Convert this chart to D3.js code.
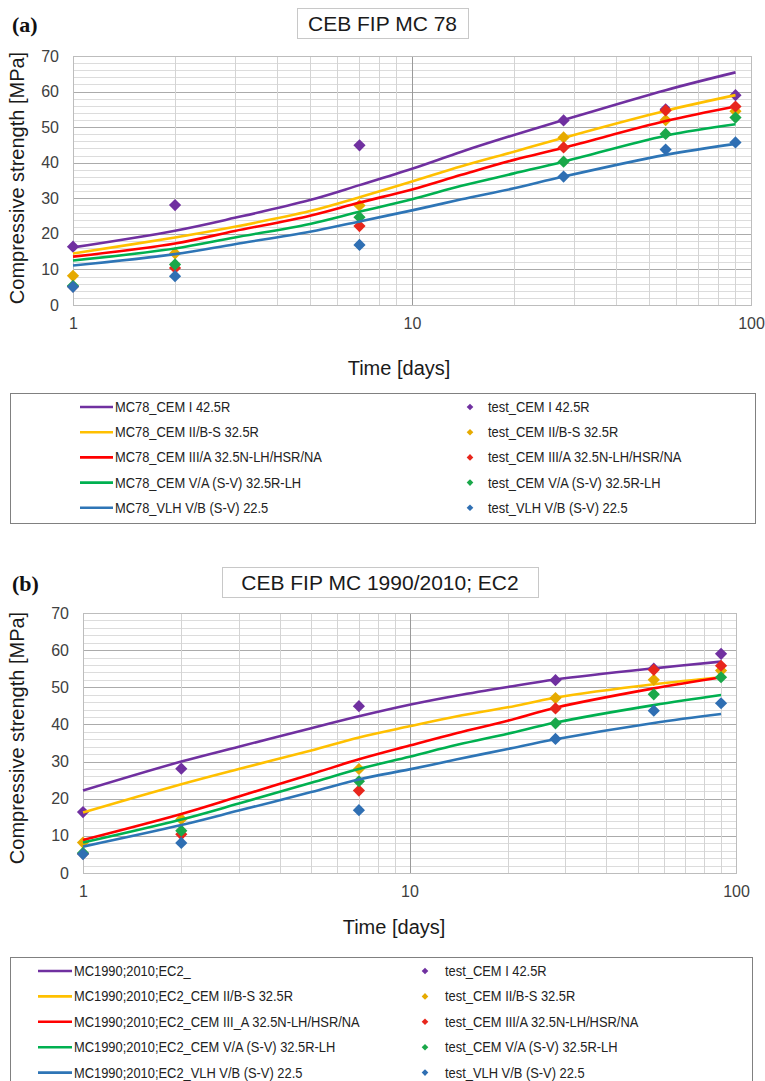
<!DOCTYPE html>
<html>
<head>
<meta charset="utf-8">
<script src="https://cdn.jsdelivr.net/npm/d3@7"></script>
<style>
  body { margin: 0; background: #fff; }
  svg { display: block; }
</style>
</head>
<body>
<svg id="chart" width="765" height="1081"></svg>
<script>
// ---- data -------------------------------------------------------------
const modelDays = [1, 2, 3, 5, 7, 10, 14, 20, 28, 56, 90];
const testDays  = [1, 2, 7, 28, 56, 90];

// CEB-FIP MC 78 predictions [MPa]
const mc78_cemI     = [16.2, 20.9, 24.5, 29.5, 33.7, 38.3, 43.1, 47.8, 52.0, 60.4, 65.4];
const mc78_cemII    = [14.5, 19.0, 22.0, 26.4, 30.3, 34.7, 39.0, 43.1, 47.0, 54.6, 59.0];
const mc78_cemIII   = [13.6, 17.3, 20.8, 25.1, 28.8, 32.5, 36.6, 40.8, 44.2, 51.7, 55.8];
const mc78_cemV     = [12.5, 15.9, 19.0, 22.8, 26.2, 29.7, 33.5, 37.0, 40.3, 47.6, 50.8];
const mc78_vlh      = [11.1, 14.3, 17.1, 20.6, 23.5, 26.6, 29.7, 32.8, 36.1, 42.2, 45.3];

// CEB-FIP MC 1990/2010; EC2 predictions [MPa]
const mc90_cemI     = [22.2, 30.0, 34.0, 39.0, 42.2, 45.3, 47.8, 50.1, 52.1, 55.1, 56.9];
const mc90_cemII    = [16.3, 23.9, 28.0, 33.0, 36.5, 39.5, 42.2, 44.6, 47.2, 50.8, 52.7];
const mc90_cemIII   = [8.9, 15.9, 20.6, 26.6, 30.6, 34.3, 37.7, 41.0, 44.5, 49.7, 52.7];
const mc90_cemV     = [8.2, 14.4, 18.7, 24.3, 28.0, 31.3, 34.5, 37.5, 40.5, 45.2, 47.9];
const mc90_vlh      = [7.1, 12.9, 16.8, 21.8, 25.2, 27.9, 30.6, 33.4, 36.0, 40.4, 42.8];

// measured compressive strength [MPa]
const test_cemI     = [16.4, 28.1, 44.9, 51.9, 55.0, 59.0];
const test_cemII    = [8.2, 14.5, 28.0, 47.1, 52.0, 54.5];
const test_cemIII   = [5.2, 10.4, 22.2, 44.3, 54.7, 55.8];
const test_cemV     = [5.4, 11.4, 24.7, 40.3, 48.1, 52.7];
const test_vlh      = [5.1, 8.1, 16.9, 36.1, 43.7, 45.7];

const yTickValues = [0, 10, 20, 30, 40, 50, 60, 70];
const xTickValues = [1, 10, 100];

const mc78Names = ["MC78_CEM I 42.5R", "MC78_CEM II/B-S 32.5R", "MC78_CEM III/A 32.5N-LH/HSR/NA",
                   "MC78_CEM V/A (S-V) 32.5R-LH", "MC78_VLH V/B (S-V) 22.5"];
const mc90Names = ["MC1990;2010;EC2_", "MC1990;2010;EC2_CEM II/B-S 32.5R",
                   "MC1990;2010;EC2_CEM III_A 32.5N-LH/HSR/NA", "MC1990;2010;EC2_CEM V/A (S-V) 32.5R-LH",
                   "MC1990;2010;EC2_VLH V/B (S-V) 22.5"];
const testNames = ["test_CEM I 42.5R", "test_CEM II/B-S 32.5R", "test_CEM III/A 32.5N-LH/HSR/NA",
                   "test_CEM V/A (S-V) 32.5R-LH", "test_VLH V/B (S-V) 22.5"];

const lineColors   = ["#7030a0", "#ffc000", "#ff0000", "#00b050", "#2e75b6"];
const markerColors = ["#7030a0", "#e6aa00", "#e8261c", "#1aa84a", "#2f6fb3"];

// ---- layout -------------------------------------------------------------
const panels = [
  {
    tag: "(a)", title: "CEB FIP MC 78",
    titleBox: { x0: 297, x1: 468, y0: 8, y1: 38 },
    plot: { left: 73, right: 751, top: 56, bottom: 305 },
    xTitle: { x: 399, y: 375 }, yTitle: { x: 24, y: 178 },
    models: [mc78_cemI, mc78_cemII, mc78_cemIII, mc78_cemV, mc78_vlh],
    modelNames: mc78Names,
    legend: { x0: 10, x1: 755, y0: 393, y1: 523, lineX0: 80, lineX1: 113, textX: 115,
              markX: 470, testX: 488, rowY0: 407, rowDy: 25.2 }
  },
  {
    tag: "(b)", title: "CEB FIP MC 1990/2010; EC2",
    titleBox: { x0: 222, x1: 538, y0: 567, y1: 597 },
    plot: { left: 83, right: 736, top: 613, bottom: 873 },
    xTitle: { x: 394, y: 934 }, yTitle: { x: 24, y: 738 },
    models: [mc90_cemI, mc90_cemII, mc90_cemIII, mc90_cemV, mc90_vlh],
    modelNames: mc90Names,
    legend: { x0: 10, x1: 752, y0: 957, y1: 1100, lineX0: 38, lineX1: 72, textX: 74,
              markX: 425, testX: 445, rowY0: 971, rowDy: 25.4 }
  }
];
const tests = [test_cemI, test_cemII, test_cemIII, test_cemV, test_vlh];

const svg = d3.select("#chart");
const axisFont = "'Liberation Sans', Arial, sans-serif";
const legendFont = "'Liberation Sans', Arial, sans-serif";
const legendSquash = 0.86;   // condensed look for legend entries
const diamond = d3.symbol().type(d3.symbolDiamond2);

panels.forEach(p => {
  const g = svg.append("g");
  const x = d3.scaleLog().domain([1, 100]).range([p.plot.left, p.plot.right]);
  const y = d3.scaleLinear().domain([0, 70]).range([p.plot.bottom, p.plot.top]);

  // panel tag
  g.append("text").attr("x", 12).attr("y", p.titleBox.y1 - 6)
    .attr("font-family", "'Liberation Serif', 'Times New Roman', serif")
    .attr("font-weight", "bold").attr("font-size", 22).attr("fill", "#111")
    .text(p.tag);

  // title box
  g.append("rect")
    .attr("x", p.titleBox.x0 + 0.5).attr("y", p.titleBox.y0 + 0.5)
    .attr("width", p.titleBox.x1 - p.titleBox.x0).attr("height", p.titleBox.y1 - p.titleBox.y0)
    .attr("fill", "#fff").attr("stroke", "#c8c8c8");
  g.append("text")
    .attr("x", (p.titleBox.x0 + p.titleBox.x1) / 2).attr("y", (p.titleBox.y0 + p.titleBox.y1) / 2 + 7.5)
    .attr("text-anchor", "middle").attr("font-family", axisFont).attr("font-size", 21)
    .attr("fill", "#1a1a1a").text(p.title);

  // horizontal grid: minor every 2 MPa, major every 10
  const grid = g.append("g");
  d3.range(0, 71, 2).forEach(v => {
    grid.append("line")
      .attr("x1", p.plot.left).attr("x2", p.plot.right)
      .attr("y1", Math.round(y(v)) + 0.5).attr("y2", Math.round(y(v)) + 0.5)
      .attr("stroke", v % 10 === 0 ? "#ababab" : "#dcdcdc").attr("stroke-width", 1);
  });
  // vertical grid on the log axis
  x.ticks().forEach(d => {
    grid.append("line")
      .attr("y1", p.plot.top).attr("y2", p.plot.bottom)
      .attr("x1", Math.round(x(d)) + 0.5).attr("x2", Math.round(x(d)) + 0.5)
      .attr("stroke", d === 10 ? "#9a9a9a" : "#d4d4d4").attr("stroke-width", 1);
  });
  g.append("rect")
    .attr("x", p.plot.left + 0.5).attr("y", p.plot.top + 0.5)
    .attr("width", p.plot.right - p.plot.left).attr("height", p.plot.bottom - p.plot.top)
    .attr("fill", "none").attr("stroke", "#bdbdbd");

  // axes (labels only)
  const yAxis = d3.axisLeft(y).tickValues(yTickValues).tickSize(0).tickPadding(14).tickFormat(d3.format("d"));
  const ya = g.append("g").attr("transform", `translate(${p.plot.left},0)`).call(yAxis);
  const xAxis = d3.axisBottom(x).tickValues(xTickValues).tickSize(0).tickPadding(13).tickFormat(d3.format("d"));
  const xa = g.append("g").attr("transform", `translate(0,${p.plot.bottom})`).call(xAxis);
  [ya, xa].forEach(a => {
    a.select(".domain").remove();
    a.selectAll("text").attr("font-family", axisFont).attr("font-size", 16).attr("fill", "#404040");
  });

  g.append("text").attr("x", p.xTitle.x).attr("y", p.xTitle.y)
    .attr("text-anchor", "middle").attr("font-family", axisFont).attr("font-size", 20)
    .attr("fill", "#1a1a1a").text("Time [days]");
  g.append("text")
    .attr("transform", `translate(${p.yTitle.x},${p.yTitle.y}) rotate(-90)`)
    .attr("text-anchor", "middle").attr("font-family", axisFont).attr("font-size", 20)
    .attr("fill", "#1a1a1a").text("Compressive strength [MPa]");

  // series: model curve then measured points, per cement
  const line = d3.line().x(d => x(d[0])).y(d => y(d[1])).curve(d3.curveCatmullRom.alpha(0.5));
  p.models.forEach((vals, i) => {
    g.append("path")
      .datum(modelDays.map((d, k) => [d, vals[k]]))
      .attr("d", line).attr("fill", "none")
      .attr("stroke", lineColors[i]).attr("stroke-width", 2.6).attr("stroke-linejoin", "round");
    g.append("g").selectAll("path")
      .data(testDays.map((d, k) => [d, tests[i][k]]))
      .join("path")
      .attr("transform", d => `translate(${x(d[0])},${y(d[1])})`)
      .attr("d", diamond.size(95)())
      .attr("fill", markerColors[i]);
  });

  // legend
  const L = p.legend;
  const lg = g.append("g");
  lg.append("rect").attr("x", L.x0 + 0.5).attr("y", L.y0 + 0.5)
    .attr("width", L.x1 - L.x0).attr("height", L.y1 - L.y0)
    .attr("fill", "#fff").attr("stroke", "#808080");
  const legendText = (tx, ty, s) => lg.append("text")
    .attr("transform", `translate(${tx},${ty}) scale(${legendSquash},1)`)
    .attr("font-family", legendFont).attr("font-size", 15).attr("fill", "#222").text(s);
  p.modelNames.forEach((name, i) => {
    const ry = L.rowY0 + i * L.rowDy;
    lg.append("line").attr("x1", L.lineX0).attr("x2", L.lineX1).attr("y1", ry).attr("y2", ry)
      .attr("stroke", lineColors[i]).attr("stroke-width", 2.6);
    legendText(L.textX, ry + 5, name);
    lg.append("path").attr("transform", `translate(${L.markX},${ry})`)
      .attr("d", diamond.size(28)()).attr("fill", markerColors[i]);
    legendText(L.testX, ry + 5, testNames[i]);
  });
});
</script>
</body>
</html>
